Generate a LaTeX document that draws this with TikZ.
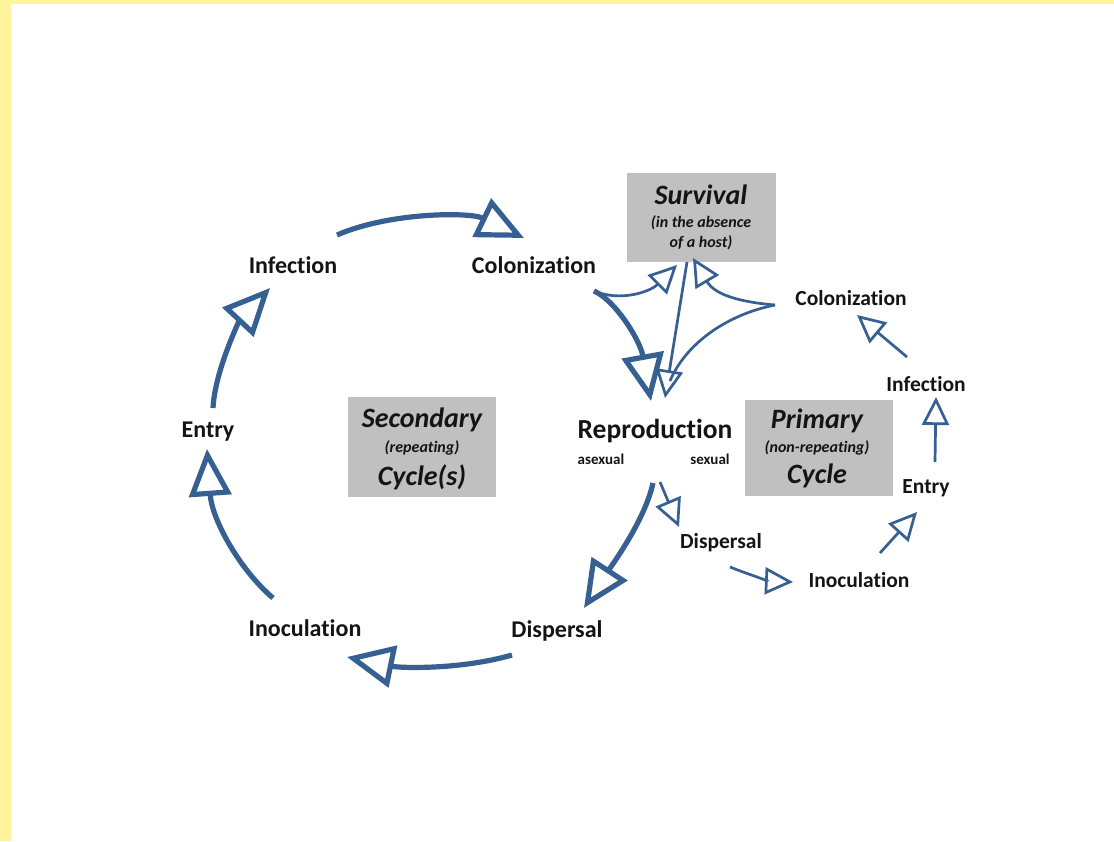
\documentclass[tikz,border=0pt]{standalone}
\usepackage{fontspec}
\setmainfont{Carlito}[Ligatures=NoCommon]
\usetikzlibrary{arrows.meta,calc}
\definecolor{cblue}{RGB}{54,96,146}
\definecolor{boxgray}{RGB}{192,192,192}
\definecolor{yellowframe}{RGB}{255,243,156}
\definecolor{txtc}{RGB}{20,20,20}
\begin{document}
\begin{tikzpicture}[x=1pt,y=-1pt,
  lbl/.style={font=\fontsize{24}{28}\selectfont\bfseries, text=txtc, inner sep=0},
  lbls/.style={font=\fontsize{21.5}{25}\selectfont\bfseries, text=txtc, inner sep=0},
  lblrep/.style={font=\fontsize{27.5}{32}\selectfont\bfseries, text=txtc, inner sep=0},
  lbltiny/.style={font=\fontsize{15}{18}\selectfont\bfseries, text=txtc, inner sep=0},
  gbox/.style={fill=boxgray, draw=none, inner sep=0},
  btitle/.style={font=\fontsize{28}{32}\selectfont\bfseries\itshape, text=txtc, inner sep=0},
  bsub/.style={font=\fontsize{16}{20}\selectfont\bfseries\itshape, text=txtc, inner sep=0},
  bigarrow/.style={draw=cblue, line width=5.2pt, -{Triangle[open, length=47pt, width=42pt]}},
  smallarrow/.style={draw=cblue, line width=2.7pt, -{Triangle[open, length=28pt, width=27pt]}},
  plainline/.style={draw=cblue, line width=2.7pt},
]
\useasboundingbox (0,0) rectangle (1114,841);
\fill[white] (0,0) rectangle (1114,841);
\fill[yellowframe] (0,0) rectangle (1114,4);
\fill[yellowframe] (0,0) rectangle (11,841);

% gray boxes
\node[gbox, minimum width=148pt, minimum height=100pt] (sec) at (422,447) {};
\node[btitle] (sec1) at (422,420) {Secondary};
\node[bsub] (sec2) at (422,448) {(repeating)};
\node[btitle] (sec3) at (422,477) {Cycle(s)};

\node[gbox, minimum width=149pt, minimum height=89pt] (surv) at (701.5,217.5) {};
\node[btitle] (surv1) at (701,195) {Survival};
\node[bsub] (surv2) at (701,223) {(in the absence};
\node[bsub] (surv3) at (701,243) {of a host)};

\node[gbox, minimum width=148pt, minimum height=96pt] (prim) at (819,448) {};
\node[btitle] (prim1) at (817,421) {Primary};
\node[bsub] (prim2) at (817,448) {(non-repeating)};
\node[btitle] (prim3) at (817,476) {Cycle};

% left cycle labels
\node[lbl] (infL) at (293,265) {Infection};
\node[lbl] (colL) at (534,265) {Colonization};
\node[lbl] (entL) at (208,432) {Entry};
\node[lbl] (inoL) at (305,628) {Inoculation};
\node[lbl] (disL) at (557,631) {Dispersal};
\node[lblrep] (rep) at (655,431) {Reproduction};
\node[lbltiny] (asex) at (601,459) {asexual};
\node[lbltiny] (sex) at (710,459) {sexual};

% right cycle labels
\node[lbls] (colR) at (851,298) {Colonization};
\node[lbls] (infR) at (926,384) {Infection};
\node[lbls] (entR) at (926,488) {Entry};
\node[lbls] (inoR) at (859,580) {Inoculation};
\node[lbls] (disR) at (721,543) {Dispersal};

% secondary cycle (thick)
\draw[bigarrow] ($(infL)+(44,-30)$) .. controls (390,212) and (470,212) .. ($(colL)+(-10,-27)$);
\draw[bigarrow] ($(entL)+(5,-24)$) .. controls (215,370) and (240,320) .. ($(infL)+(-23,23)$);
\draw[bigarrow] ($(inoL)+(-32,-30)$) .. controls (240,570) and (212,520) .. ($(entL)+(-1,17)$);
\draw[bigarrow] ($(disL)+(-45,24)$) .. controls (460,670) and (400,668) .. ($(inoL)+(42,29)$);
\draw[bigarrow] ($(rep)+(-2,52)$) .. controls (645,520) and (612,565) .. ($(disL)+(27,-23)$);
\draw[bigarrow] ($(colL)+(60,26)$) .. controls (615,300) and (640,340) .. ($(rep)+(-4,-30)$);

% survival links and primary cycle (thin)
\draw[smallarrow] ($(colL)+(60,26)$) .. controls (620,302) and (650,292) .. ($(surv)+(-24.5,47.5)$);
\draw[smallarrow] ($(surv)+(-14.5,44.5)$) -- ($(rep)+(10,-33)$);
\draw[smallarrow] ($(colR)+(-76,7)$) .. controls (740,302) and (715,295) .. ($(surv)+(-8.5,40.5)$);
\draw[plainline] ($(colR)+(-76,7)$) .. controls (725,315) and (685,345) .. ($(rep)+(15,-50)$);
\draw[smallarrow] ($(rep)+(5,51)$) -- ($(disR)+(-42,-16)$);
\draw[smallarrow] ($(disR)+(9,24)$) .. controls (750,575) and (770,581) .. ($(inoR)+(-66,2)$);
\draw[smallarrow] ($(inoR)+(21,-27)$) -- ($(entR)+(-9,24)$);
\draw[smallarrow] ($(entR)+(9,-26)$) -- ($(infR)+(10,13)$);
\draw[smallarrow] ($(infR)+(-19,-27)$) -- ($(colR)+(6,17)$);
\end{tikzpicture}
\end{document}
